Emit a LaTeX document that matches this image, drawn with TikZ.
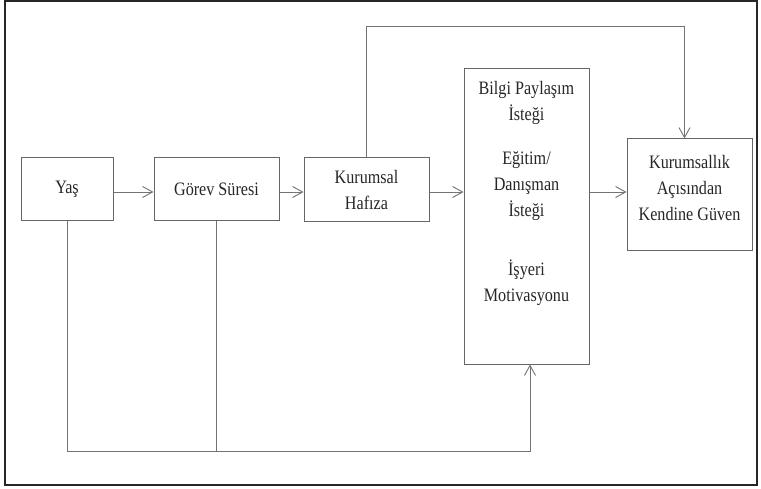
\documentclass[tikz,border=0pt]{standalone}
\usepackage{fontspec}
\setmainfont[FakeStretch=0.85]{Liberation Serif}
\usetikzlibrary{arrows.meta,positioning}

\tikzset{
  kutu/.style={draw=black!60, line width=1pt, align=center, inner sep=2pt,
    minimum width=125pt, minimum height=63pt,
    font=\fontsize{19}{26}\selectfont, text=black!85},
  ok/.style={draw=black!55, line width=0.9pt,
    -{Straight Barb[length=10pt,width=11pt,line width=0.9pt]}},
  cizgi/.style={draw=black!55, line width=0.9pt}
}

\begin{document}
\begin{tikzpicture}[x=1pt,y=1pt]

    % Cerceve
    \useasboundingbox (0,0) rectangle (761,488);
    \draw[black!85, line width=2pt] (5,3.5) rectangle (757,487);

    % Kutular
    \node[kutu, minimum width=92pt] (yas) at (67,298.5) {Yaş};
    \node[kutu] (gorev) at (216.5,298.5) {Görev Süresi};
    \node[kutu, minimum height=64pt] (hafiza) at (366.5,298) {Kurumsal\\Hafıza};
    \node[kutu, minimum height=295pt, text depth=50pt] (istek) at (526.5,271.5)
      {Bilgi Paylaşım\\İsteği\\[18pt]Eğitim/\\Danışman\\İsteği\\[33pt]İşyeri\\Motivasyonu};
    \node[kutu, minimum height=112pt, text depth=15pt] (guven) at (689.5,293)
      {Kurumsallık\\Açısından\\Kendine Güven};

    % Yardimci noktalar
    \coordinate (ust) at (0,462);
    \coordinate (alt) at (0,37);

    % Yatay oklar
    \draw[ok] (yas.east |- 0,296) -- (gorev.west |- 0,296);
    \draw[ok] (gorev.east |- 0,296) -- (hafiza.west |- 0,296);
    \draw[ok] (hafiza.east |- 0,296) -- (istek.west |- 0,296);
    \draw[ok] (istek.east |- 0,296) -- (guven.west |- 0,296);

    % Ust baglanti
    \draw[ok] (hafiza.north) |- ([xshift=-5pt]guven.north |- ust) -- ([xshift=-5pt]guven.north);

    % Alt baglantilar
    \draw[ok] (yas.south) |- ([xshift=3.5pt]istek.south |- alt) -- ([xshift=3.5pt]istek.south);
    \draw[cizgi] (gorev.south) -- (gorev.south |- alt);

\end{tikzpicture}
\end{document}
